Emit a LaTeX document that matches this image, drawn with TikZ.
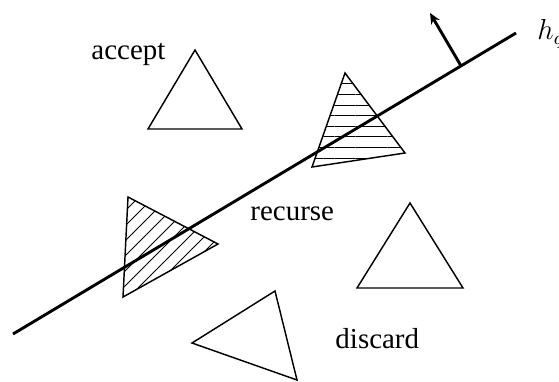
\documentclass[tikz,border=0pt]{standalone}
\usepackage{fontspec}
\setmainfont{Liberation Serif}
\usetikzlibrary{patterns.meta,calc,arrows.meta}

\begin{document}
\begin{tikzpicture}[x=0.4146pt,y=-0.4146pt,
  tri/.style={semithick, line join=miter},
  hatchh/.style={tri, pattern={Lines[angle=0,distance=4.4pt,line width=0.4pt]}},
  hatchd/.style={tri, pattern={Lines[angle=45,distance=4.4pt,line width=0.4pt]}},
  lbl/.style={anchor=base west, inner sep=0pt, font=\fontsize{12}{14}\selectfont}]
\useasboundingbox (0,0) rectangle (559,381);
% query plane:
\coordinate (hstart) at (13,334);
\coordinate (hend) at (516,33);
\draw[very thick] (hstart) -- (hend);
\coordinate (nbase) at ($(hstart)!0.8907!(hend)$);
\coordinate (ntip) at (430,13);
\draw[-{Stealth[length=4.5pt,width=4pt]}, very thick] (nbase) -- (ntip);
\node[lbl] (hq) at (537,40) {$h_q$};
% triangles:
\draw[tri] (195,50) -- (148,129) -- (242,129) -- cycle;
\draw[hatchh] (345,73) -- (312,167) -- (405,153) -- cycle;
\draw[hatchd] (128,197) -- (218,244) -- (123,297) -- cycle;
\draw[tri] (410,203) -- (357,288) -- (463,288) -- cycle;
\draw[tri] (275,291) -- (192,343) -- (297,380) -- cycle;
% labels:
\node[lbl] (accept) at (91,60) {accept};
\node[lbl] (recurse) at (250,220) {recurse};
\node[lbl] (discard) at (335,348) {discard};
\end{tikzpicture}
\end{document}
